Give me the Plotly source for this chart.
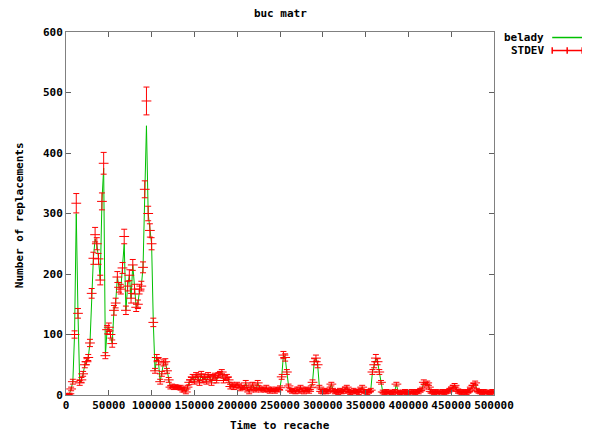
import plotly.graph_objects as go

# x positions (time to recache), step 2000 from 0 to 500000
x_start = 0
x_step = 2000
n_points = 251

stdev_mean = [
    0, 1, 2, 10, 22, 100, 317, 135, 20, 25,
    35, 50, 55, 62, 86, 168, 226, 265, 250, 225,
    190, 320, 383, 65, 108, 112, 100, 85, 140, 152,
    195, 178, 175, 210, 262, 140, 180, 198, 160, 215,
    175, 145, 150, 175, 180, 211, 340, 486, 300, 272,
    250, 120, 40, 62, 55, 22, 35, 53, 55, 40,
    25, 13, 15, 12, 14, 13, 12, 13, 8, 10,
    5, 13, 21, 25, 30, 22, 33, 30, 20, 35,
    25, 30, 22, 33, 30, 20, 30, 32, 24, 33,
    35, 38, 24, 28, 30, 25, 14, 18, 12, 15,
    18, 15, 10, 12, 13, 20, 10, 5, 12, 18,
    10, 8, 20, 12, 8, 10, 8, 13, 8, 6,
    10, 8, 6, 10, 8, 12, 30, 66, 62, 38,
    15, 8, 6, 8, 5, 10, 6, 13, 8, 5,
    10, 8, 6, 12, 21, 55, 61, 50, 13, 6,
    5, 8, 5, 6, 10, 18, 8, 5, 6, 4,
    8, 5, 6, 10, 13, 6, 4, 5, 8, 5,
    6, 4, 8, 13, 6, 5, 4, 6, 8, 38,
    50, 61, 55, 38, 21, 5, 4, 6, 5, 3,
    5, 4, 6, 18, 5, 4, 3, 5, 6, 4,
    5, 3, 6, 5, 4, 6, 5, 8, 10, 21,
    18, 20, 13, 6, 5, 4, 6, 5, 3, 5,
    6, 4, 5, 6, 8, 10, 13, 16, 10, 6,
    5, 4, 6, 5, 4, 6, 8, 13, 16, 20,
    8, 6, 5, 4, 6, 5, 3, 5, 4, 6,
    5,
]

stdev_err = [
    1, 1, 1, 3, 4, 6, 16, 8, 4, 4,
    4, 5, 5, 5, 6, 8, 10, 12, 10, 9,
    8, 14, 18, 5, 7, 7, 6, 6, 8, 8,
    9, 8, 8, 9, 12, 7, 8, 9, 8, 9,
    8, 7, 7, 8, 8, 9, 14, 23, 12, 11,
    10, 7, 4, 5, 5, 4, 4, 5, 5, 4,
    4, 3, 3, 3, 3, 3, 3, 3, 3, 3,
    3, 3, 4, 4, 4, 4, 4, 4, 4, 4,
    4, 4, 4, 4, 4, 4, 4, 4, 4, 4,
    4, 4, 4, 4, 4, 4, 4, 3, 3, 3,
    3, 3, 3, 3, 3, 4, 3, 3, 3, 3,
    3, 3, 4, 3, 3, 3, 3, 3, 3, 3,
    3, 3, 3, 3, 3, 3, 4, 6, 6, 4,
    3, 3, 3, 3, 3, 3, 3, 3, 3, 3,
    3, 3, 3, 3, 4, 5, 5, 5, 3, 3,
    3, 3, 3, 3, 3, 3, 3, 3, 3, 3,
    3, 3, 3, 3, 3, 3, 3, 3, 3, 3,
    3, 3, 3, 3, 3, 3, 3, 3, 3, 4,
    5, 6, 5, 4, 3, 3, 3, 3, 3, 3,
    3, 3, 3, 3, 3, 3, 3, 3, 3, 3,
    3, 3, 3, 3, 3, 3, 3, 3, 3, 4,
    3, 3, 3, 3, 3, 3, 3, 3, 3, 3,
    3, 3, 3, 3, 3, 3, 3, 3, 3, 3,
    3, 3, 3, 3, 3, 3, 3, 3, 3, 3,
    3, 3, 3, 3, 3, 3, 3, 3, 3, 3,
    3,
]

belady = [
    0, 1, 2, 10, 22, 100, 300, 135, 20, 25,
    35, 50, 55, 62, 86, 168, 226, 258, 250, 225,
    190, 320, 375, 65, 108, 112, 100, 85, 140, 152,
    195, 178, 175, 210, 250, 140, 180, 198, 160, 215,
    175, 145, 150, 175, 180, 211, 330, 445, 300, 272,
    250, 120, 40, 62, 55, 22, 35, 53, 55, 40,
    25, 13, 15, 12, 14, 13, 12, 13, 8, 10,
    5, 13, 21, 25, 30, 22, 33, 30, 20, 35,
    25, 30, 22, 33, 30, 20, 30, 32, 24, 33,
    35, 38, 24, 28, 30, 25, 14, 18, 12, 15,
    18, 15, 10, 12, 13, 20, 10, 5, 12, 18,
    10, 8, 20, 12, 8, 10, 8, 13, 8, 6,
    10, 8, 6, 10, 8, 12, 30, 66, 62, 38,
    15, 8, 6, 8, 5, 10, 6, 13, 8, 5,
    10, 8, 6, 12, 21, 55, 61, 50, 13, 6,
    5, 8, 5, 6, 10, 18, 8, 5, 6, 4,
    8, 5, 6, 10, 13, 6, 4, 5, 8, 5,
    6, 4, 8, 13, 6, 5, 4, 6, 8, 38,
    50, 61, 55, 38, 21, 5, 4, 6, 5, 3,
    5, 4, 6, 18, 5, 4, 3, 5, 6, 4,
    5, 3, 6, 5, 4, 6, 5, 8, 10, 21,
    18, 20, 13, 6, 5, 4, 6, 5, 3, 5,
    6, 4, 5, 6, 8, 10, 13, 16, 10, 6,
    5, 4, 6, 5, 4, 6, 8, 13, 16, 20,
    8, 6, 5, 4, 6, 5, 3, 5, 4, 6,
    5,
]

x_vals = [x_start + i * x_step for i in range(n_points)]

x_ticks = [0, 50000, 100000, 150000, 200000, 250000, 300000, 350000, 400000, 450000, 500000]
y_ticks = [0, 100, 200, 300, 400, 500, 600]

title_text = "buc matr"
x_title = "Time to recache"
y_title = "Number of replacements"
series_names = ["belady", "STDEV"]

GREEN = "#00c000"
RED = "#ff0000"
FONT = dict(family="DejaVu Sans Mono", size=11, color="black", weight="bold")

# The page body has an 8px margin, so the figure is 8px smaller than the window.
FIG_W, FIG_H = 582, 426

fig = go.Figure()
fig.add_trace(go.Scatter(
    x=x_vals, y=belady, mode="lines", name=series_names[0],
    line=dict(color=GREEN, width=1), showlegend=False,
))
fig.add_trace(go.Scatter(
    x=x_vals, y=stdev_mean, mode="markers", name=series_names[1],
    marker=dict(symbol="line-ew", size=7, color=RED, line=dict(color=RED, width=1)),
    error_y=dict(type="data", array=stdev_err, visible=True, color=RED, thickness=1, width=3),
    showlegend=False,
))

axis_common = dict(
    showgrid=False, zeroline=False, showline=True, mirror="allticks",
    linecolor="#808080", linewidth=1, ticks="inside", ticklen=5,
    tickcolor="#606060", tickfont=FONT, automargin=False, tickangle=0,
)
fig.update_xaxes(range=[0, 500000], tickvals=x_ticks, tickformat="d", **axis_common)
fig.update_yaxes(range=[0, 600], tickvals=y_ticks, tickformat="d", **axis_common)

# axis titles
fig.add_annotation(xref="paper", yref="paper", x=0.5, y=-0.083, text=x_title,
                   showarrow=False, xanchor="center", yanchor="middle", font=FONT)
fig.add_annotation(xref="paper", yref="paper", x=-0.107, y=0.496, text=y_title,
                   showarrow=False, xanchor="center", yanchor="middle", textangle=-90, font=FONT)

# manual gnuplot-style legend (text right-aligned, sample to the right)
row1, row2 = 0.9848, 0.9490
for yy, name in ((row1, series_names[0]), (row2, series_names[1])):
    fig.add_annotation(xref="paper", yref="paper", x=1.121, y=yy, text=name,
                       showarrow=False, xanchor="right", yanchor="middle", font=FONT)
fig.add_shape(type="line", xref="paper", yref="paper", x0=1.136, x1=1.206,
              y0=row1, y1=row1, line=dict(color=GREEN, width=1.5))
fig.add_shape(type="line", xref="paper", yref="paper", x0=1.136, x1=1.206,
              y0=row2, y1=row2, line=dict(color=RED, width=1.5))
for xx in (1.136, 1.171, 1.206):
    fig.add_shape(type="line", xref="paper", yref="paper", x0=xx, x1=xx,
                  y0=row2 - 0.009, y1=row2 + 0.009, line=dict(color=RED, width=1.5))

fig.update_layout(
    width=FIG_W, height=FIG_H,
    margin=dict(l=58, r=96, t=24, b=39, autoexpand=False),
    paper_bgcolor="white", plot_bgcolor="white",
    title=dict(text=title_text, x=0.468, xanchor="center", y=0.988, yanchor="middle", font=FONT),
    font=FONT,
)

fig.write_html("out.html")
